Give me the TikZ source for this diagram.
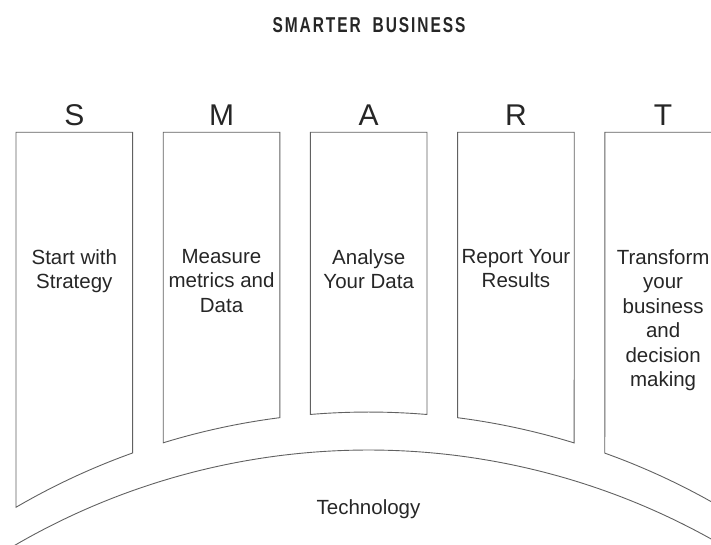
\documentclass[tikz,border=0pt]{standalone}
\usepackage{fontspec}
\setmainfont{Liberation Sans}
\newfontfamily\titlefont[FakeStretch=0.72,LetterSpace=9]{Liberation Sans}
\usetikzlibrary{calc}
\begin{document}
\begin{tikzpicture}[x=1pt,y=1pt,
  boxline/.style={draw=black!62, line width=0.9pt},
  letter/.style={font=\fontsize{30}{30}\selectfont, text=black!85, anchor=base, inner sep=0pt},
  boxtext/.style={font=\fontsize{20.5}{24.5}\selectfont, text=black!85, align=center, anchor=north, inner sep=0pt},
  techtext/.style={font=\fontsize{20.5}{24.5}\selectfont, text=black!85, anchor=base, inner sep=0pt},
  titletext/.style={font=\fontsize{21.5}{24}\titlefont\bfseries, text=black!85, anchor=base, inner sep=0pt}
]
\useasboundingbox (0,0) rectangle (711,544);
\clip (0,0) rectangle (711,544);
\coordinate (C) at (368.5,-568);
\coordinate (TC) at (368.5,-610);

% title
\node[titletext] (title) at (369,511.5) {SMARTER\hspace{12pt}BUSINESS};

% boxes
\foreach \n/\L in {s/16, m/163.2, a/310.4, r/457.6, t/604.8} {
  \pgfmathsetmacro\R{\L+116.6}
  \pgfmathsetmacro\aR{acos((\R-368.5)/700)}
  \pgfmathsetmacro\aL{acos((\L-368.5)/700)}
  \draw[boxline] (\L,411.7) -- (\R,411.7) -- ($(C)+(\aR:700)$)
     arc[start angle=\aR, end angle=\aL, radius=700] -- cycle;
}

% letters
\node[letter] (ls) at (74.3,418) {S};
\node[letter] (lm) at (221.5,418) {M};
\node[letter] (la) at (368.7,418) {A};
\node[letter] (lr) at (515.9,418) {R};
\node[letter] (lt) at (663.1,418) {T};

% box texts
\node[boxtext] (ts) at (74.3,295) {Start with\\Strategy};
\node[boxtext] (tm) at (221.5,295) {Measure\\metrics and\\Data};
\node[boxtext] (ta) at (368.7,295) {Analyse\\Your Data};
\node[boxtext] (tr) at (515.9,295) {Report Your\\Results};
\node[boxtext] (tt) at (663.1,295) {Transform\\your\\business\\and\\decision\\making};

% technology arc
\draw[boxline] ($(TC)+(125:704)$) arc[start angle=125, end angle=55, radius=704];
\node[techtext] (tech) at (368.5,30) {Technology};
\end{tikzpicture}
\end{document}
